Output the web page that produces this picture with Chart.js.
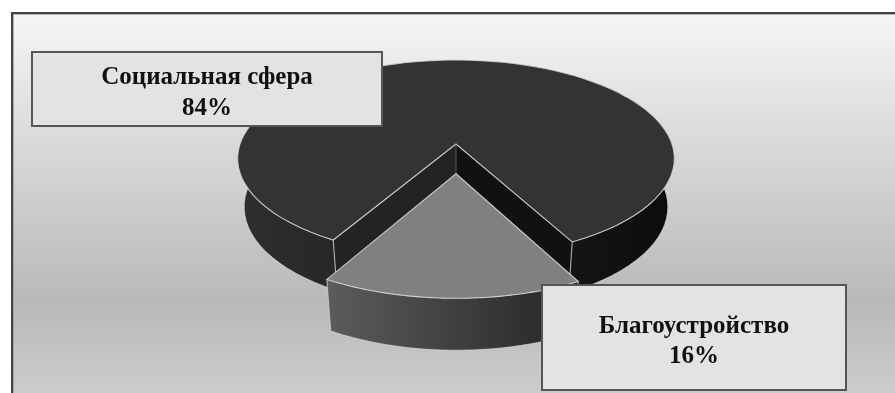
<!DOCTYPE html>
<html>
<head>
<meta charset="utf-8">
<style>
html, body { margin: 0; padding: 0; background: #fff; overflow: hidden; }
canvas { display: block; }
</style>
<script src="https://cdn.jsdelivr.net/npm/chart.js@4"></script>
</head>
<body>
<canvas id="myChart" width="895" height="393"></canvas>
<script>
var categories = ['Социальная сфера', 'Благоустройство'];
var percents = [84, 16];

// перспектива диска: центр, полуоси, наклон
var cx = 456, cy = 144, rx = 216, ry = 96.4, persp = 0.1475;
var explode = 0.295;
var topColors = ['#333333', '#808080'];
var boxes = [
    { x: 32, y: 52, w: 350, h: 74, line1: 84, line2: 115 },
    { x: 542, y: 285, w: 304, h: 105, line1: 333, line2: 363 }
];

function project(u, v, low) {
    var w = 1 - persp * v;
    var x = rx * u / w, y = cy + ry * v / w;
    if (low) {
        x = x * 0.97;
        y = y + 48 + 3 * v;
    }
    return { x: cx + x, y: y };
}

// angle идет как в Chart.js: 0 = вправо, по часовой
function rimPoint(angle, off, low) {
    return project(Math.cos(angle), Math.sin(angle) + off, low);
}

function arcPoints(arc, off, low) {
    var pts = [];
    var n = 90;
    for (var i = 0; i <= n; i++) {
        pts.push(rimPoint(arc.startAngle + (arc.endAngle - arc.startAngle) * i / n, off, low));
    }
    return pts;
}

function pathOf(ctx, pts) {
    ctx.beginPath();
    pts.forEach(function(p, i) {
        if (i == 0) ctx.moveTo(p.x, p.y); else ctx.lineTo(p.x, p.y);
    });
}

function hGrad(ctx, x0, x1, c0, c1) {
    var g = ctx.createLinearGradient(x0, 0, x1, 0);
    g.addColorStop(0, c0);
    g.addColorStop(1, c1);
    return g;
}

function drawSlice(ctx, arc, off, color, wallFill, leftFace, rightFace) {
    var top = arcPoints(arc, off, false);
    var low = arcPoints(arc, off, true);
    var apexTop = project(0, off, false);
    var apexLow = project(0, off, true);
    var edge = 'rgba(225,225,225,0.85)';

    if (leftFace) {
        ctx.fillStyle = leftFace;
        pathOf(ctx, [apexTop, top[top.length - 1], low[low.length - 1], apexLow]);
        ctx.closePath();
        ctx.fill();
    }
    if (rightFace) {
        ctx.fillStyle = rightFace;
        pathOf(ctx, [apexTop, top[0], low[0], apexLow]);
        ctx.closePath();
        ctx.fill();
    }

    // наружная стенка
    ctx.fillStyle = wallFill;
    pathOf(ctx, top.concat(low.slice().reverse()));
    ctx.closePath();
    ctx.fill();
    ctx.strokeStyle = 'rgba(235,235,235,0.55)';
    ctx.lineWidth = 1;
    pathOf(ctx, low);
    ctx.stroke();

    // верх
    ctx.fillStyle = color;
    pathOf(ctx, [apexTop].concat(top));
    ctx.closePath();
    ctx.fill();
    ctx.strokeStyle = edge;
    ctx.lineWidth = 1.1;
    pathOf(ctx, [apexTop].concat(top));
    ctx.closePath();
    ctx.stroke();

    // вертикальные ребра
    ctx.strokeStyle = 'rgba(205,205,205,0.8)';
    [0, top.length - 1].forEach(function(i) {
        pathOf(ctx, [top[i], low[i]]);
        ctx.stroke();
    });
    if (leftFace) {
        pathOf(ctx, [apexTop, apexLow]);
        ctx.strokeStyle = 'rgba(120,120,120,0.6)';
        ctx.stroke();
    }
}

var pie3d = {
    id: 'pie3d',
    beforeDraw: function(chart) {
        var ctx = chart.ctx;
        var g = ctx.createLinearGradient(0, 14, 0, 393);
        g.addColorStop(0, '#f6f6f6');
        g.addColorStop(0.28, '#dedede');
        g.addColorStop(0.76, '#b9b9b9');
        g.addColorStop(1, '#cccccc');
        ctx.fillStyle = g;
        ctx.fillRect(12, 13, 883, 380);
        ctx.fillStyle = '#444444';
        ctx.fillRect(11, 12, 884, 2);
        ctx.fillRect(11, 12, 2, 381);
        ctx.fillStyle = 'rgba(150,150,150,0.7)';
        ctx.fillRect(13, 14, 882, 1);
        ctx.fillRect(13, 14, 1, 379);
    },
    beforeDatasetsDraw: function(chart) {
        var ctx = chart.ctx;
        var arcs = chart.getDatasetMeta(0).data;
        ctx.save();
        drawSlice(ctx, arcs[0], 0, topColors[0],
            hGrad(ctx, 245, 665, '#2e2e2e', '#0d0d0d'), '#111111', '#232323');
        drawSlice(ctx, arcs[1], explode, topColors[1],
            hGrad(ctx, 326, 575, '#5c5c5c', '#252525'));
        ctx.restore();
        return false;
    },
    afterDraw: function(chart) {
        var ctx = chart.ctx;
        ctx.save();
        ctx.textAlign = 'center';
        ctx.textBaseline = 'alphabetic';
        ctx.font = 'bold 25px "Liberation Serif"';
        boxes.forEach(function(b, i) {
            ctx.fillStyle = '#e3e3e3';
            ctx.fillRect(b.x, b.y, b.w, b.h);
            ctx.strokeStyle = '#555555';
            ctx.lineWidth = 2;
            ctx.strokeRect(b.x, b.y, b.w, b.h);
            ctx.fillStyle = '#111111';
            ctx.fillText(categories[i], b.x + b.w / 2, b.line1);
            ctx.fillText(percents[i] + '%', b.x + b.w / 2, b.line2);
        });
        ctx.restore();
    }
};

var ctx = document.getElementById('myChart').getContext('2d');
var myChart = new Chart(ctx, {
    type: 'pie',
    data: {
        labels: categories,
        datasets: [{ data: percents, backgroundColor: topColors }]
    },
    options: {
        responsive: false,
        animation: false,
        rotation: 209.7,
        plugins: {
            legend: { display: false },
            tooltip: { enabled: false }
        }
    },
    plugins: [pie3d]
});
</script>
</body>
</html>
